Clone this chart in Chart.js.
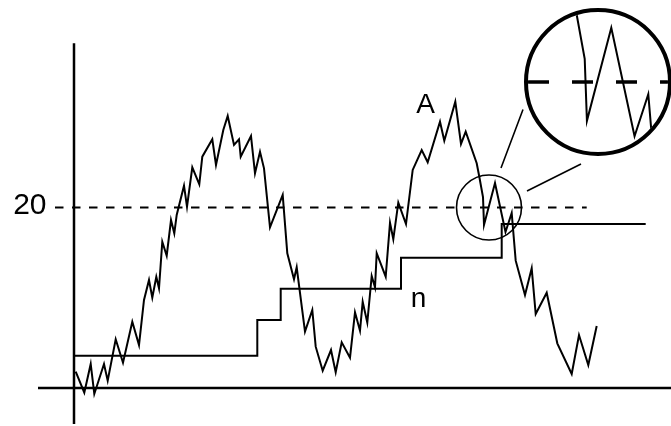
<!DOCTYPE html>
<html><head><meta charset="utf-8">
<script src="https://cdn.jsdelivr.net/npm/chart.js@4"></script>
<style>
html,body{margin:0;padding:0;background:#fff;overflow:hidden}
#wrap{position:relative;width:671px;height:426px;overflow:hidden}
#main{position:absolute;left:0;top:0}
#lens{position:absolute;left:524px;top:8px;width:148px;height:148px;box-sizing:border-box;border:4px solid #000;border-radius:50%;overflow:hidden;background:#fff}
#zoom{display:block}
</style></head><body>
<div id="wrap">
  <canvas id="main" width="671" height="426"></canvas>
  <div id="lens"><canvas id="zoom" width="140" height="140"></canvas></div>
</div>
<script>
// ---- data ----
const lineX = [1.7,10.3,16.7,20.3,30,33.7,41.7,49,58.3,65,70,75,78.3,82.3,85,88.3,92.7,97,100.3,102.7,
  110,113,118.3,125.3,128.3,138.3,142,149.3,153.7,160,165,166.7,177,181,186,190,196,208.7,213.3,220,
  222.7,231,238.3,241.7,248.7,257,261.7,267.7,276,281,286,288.7,293.3,297.7,301,302.7,311.7,316,319.3,324.3,
  332,338.7,347.7,353.7,366,370.3,381.3,387,391.7,402.7,405.3,409,410,421,431.5,437.7,441.7,451,457.7,461.7,
  472.7,483.3,497.7,505,514.3,522.7];
const lineY = [1.81,-0.52,2.66,-0.66,2.66,0.81,5.40,2.80,7.35,4.76,9.75,11.97,10.01,12.33,11.05,16.21,14.66,18.61,17.14,19.17,
  22.42,20.09,24.45,22.57,25.63,27.56,24.71,28.59,30.14,26.93,27.56,25.63,27.92,23.79,26.18,24.34,17.81,21.39,14.93,12.04,
  13.37,6.24,8.64,4.58,1.92,4.21,1.74,5.06,3.36,8.39,6.35,9.56,7.24,12.41,11.16,14.93,12.33,18.32,16.48,20.53,
  18.17,24.16,26.37,25.01,29.51,27.40,31.72,27.04,28.40,24.90,23.41,21.16,18.06,22.71,17.29,19.39,14.11,10.30,13.26,8.20,
  10.56,4.95,1.55,5.87,2.55,6.87];
const stepX = [1,183.3,206.7,327,427.7,571.7];
const stepY = [3.58,7.53,11.0,14.44,18.17,18.17];
const refLevel = 20;
const refX = [-19,512.7];
const tickValues = [20];
const tickLabels = ['20'];
const seriesLabels = ['A','n'];

// ---- helpers ----
const pts = (xs, ys) => xs.map((x,i)=>({x, y: ys[i]}));
const refPts = refX.map(x=>({x, y: refLevel}));
const FONT = '"Liberation Sans", Arial, sans-serif';

const decor = {
  id: 'decor',
  afterDatasetsDraw(chart) {
    const {ctx, scales:{x, y}} = chart;
    ctx.save();
    ctx.strokeStyle = '#000';
    ctx.fillStyle = '#000';
    // axes
    ctx.lineWidth = 2.5;
    ctx.beginPath();
    ctx.moveTo(x.getPixelForValue(-36), y.getPixelForValue(0));
    ctx.lineTo(x.getPixelForValue(597), y.getPixelForValue(0));
    ctx.moveTo(x.getPixelForValue(0), y.getPixelForValue(38.2));
    ctx.lineTo(x.getPixelForValue(0), y.getPixelForValue(-4.0));
    ctx.stroke();
    // tick label
    ctx.font = '30px ' + FONT;
    ctx.textAlign = 'right';
    ctx.textBaseline = 'alphabetic';
    tickValues.forEach((v,i)=>{
      ctx.fillText(tickLabels[i], 46.5, y.getPixelForValue(v) + 6);
    });
    // series labels
    ctx.font = '28px ' + FONT;
    ctx.textAlign = 'center';
    ctx.fillText(seriesLabels[0], x.getPixelForValue(351.5), y.getPixelForValue(30.47));
    ctx.fillText(seriesLabels[1], x.getPixelForValue(344.5), y.getPixelForValue(8.98));
    // small circle around the zoomed region
    ctx.lineWidth = 1.6;
    ctx.beginPath();
    ctx.arc(x.getPixelForValue(415), y.getPixelForValue(refLevel), 32.5, 0, Math.PI*2);
    ctx.stroke();
    // connector lines to the lens
    ctx.lineWidth = 1.6;
    ctx.beginPath();
    ctx.moveTo(501,168); ctx.lineTo(523,109.5);
    ctx.moveTo(527,191); ctx.lineTo(581,164);
    ctx.stroke();
    ctx.restore();
  }
};

new Chart(document.getElementById('main'), {
  type: 'line',
  data: {
    datasets: [
      {data: pts(lineX, lineY), borderColor:'#000', borderWidth:2, pointRadius:0, tension:0, fill:false},
      {data: pts(stepX, stepY), borderColor:'#000', borderWidth:2, pointRadius:0, stepped:true, fill:false},
      {data: refPts, borderColor:'#000', borderWidth:1.8, borderDash:[8.5,8.5], pointRadius:0, fill:false}
    ]
  },
  options: {
    responsive:false, animation:false, parsing:true,
    layout:{padding:0},
    plugins:{legend:{display:false}, tooltip:{enabled:false}},
    scales:{
      x:{type:'linear', display:false, min:-74, max:597},
      y:{type:'linear', display:false, min:-4.2105, max:42.992}
    }
  },
  plugins:[decor]
});

// magnified view inside the lens
new Chart(document.getElementById('zoom'), {
  type: 'line',
  data: {
    datasets: [
      {data: pts(lineX, lineY), borderColor:'#000', borderWidth:2, pointRadius:0, tension:0, fill:false},
      {data: refPts, borderColor:'#000', borderWidth:3.5, borderDash:[21,23], borderDashOffset:32.6, pointRadius:0, fill:false}
    ]
  },
  options: {
    responsive:false, animation:false,
    layout:{padding:0},
    plugins:{legend:{display:false}, tooltip:{enabled:false}},
    scales:{
      x:{type:'linear', display:false, min:383.4, max:446.6},
      y:{type:'linear', display:false, min:16.5, max:23.5}
    }
  }
});
</script>
</body></html>
